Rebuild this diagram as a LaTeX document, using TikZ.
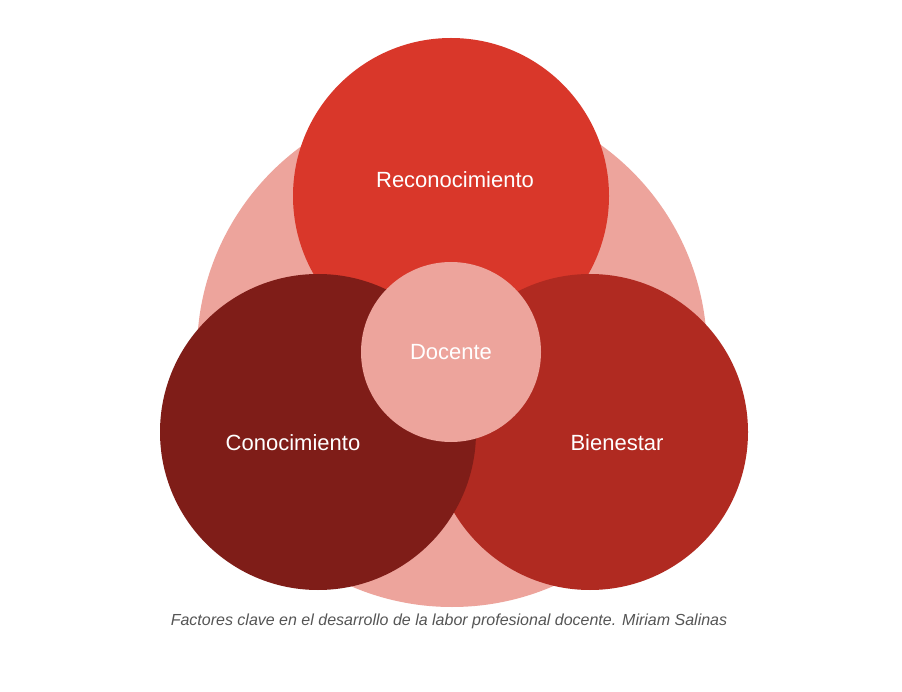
\documentclass[tikz,border=0pt]{standalone}
\usepackage{fontspec}
\setmainfont{Liberation Sans}
\definecolor{pinkc}{HTML}{EDA49C}
\definecolor{topc}{HTML}{D9372A}
\definecolor{leftc}{HTML}{7F1D18}
\definecolor{rightc}{HTML}{B02A21}
\definecolor{capc}{HTML}{555555}
\tikzset{disc/.style={circle,inner sep=0pt,text=white,font=\fontsize{22}{26}\selectfont}}
\begin{document}
\begin{tikzpicture}[x=1pt,y=-1pt]
\useasboundingbox[fill=white] (0,0) rectangle (902,692);
\node[disc,fill=pinkc,minimum size=510pt] (bg) at (452,352) {};
\node[disc,fill=topc,minimum size=316pt] (rec) at (451,196) {};
\node[disc,fill=rightc,minimum size=316pt] (bie) at (590,432) {};
\node[disc,fill=leftc,minimum size=316pt] (con) at (318,432) {};
\node[disc,fill=pinkc,minimum size=180pt] (doc) at (451,352) {Docente};
\node[text=white,font=\fontsize{22}{26}\selectfont] (recl) at (455,180) {Reconocimiento};
\node[text=white,font=\fontsize{22}{26}\selectfont] (conl) at (293,443) {Conocimiento};
\node[text=white,font=\fontsize{22}{26}\selectfont] (biel) at (617,443) {Bienestar};
\node[text=capc,font=\itshape\fontsize{16}{19}\selectfont] (cap) at (449,621) {Factores clave en el desarrollo de la labor profesional docente. Miriam Salinas};
\end{tikzpicture}
\end{document}
